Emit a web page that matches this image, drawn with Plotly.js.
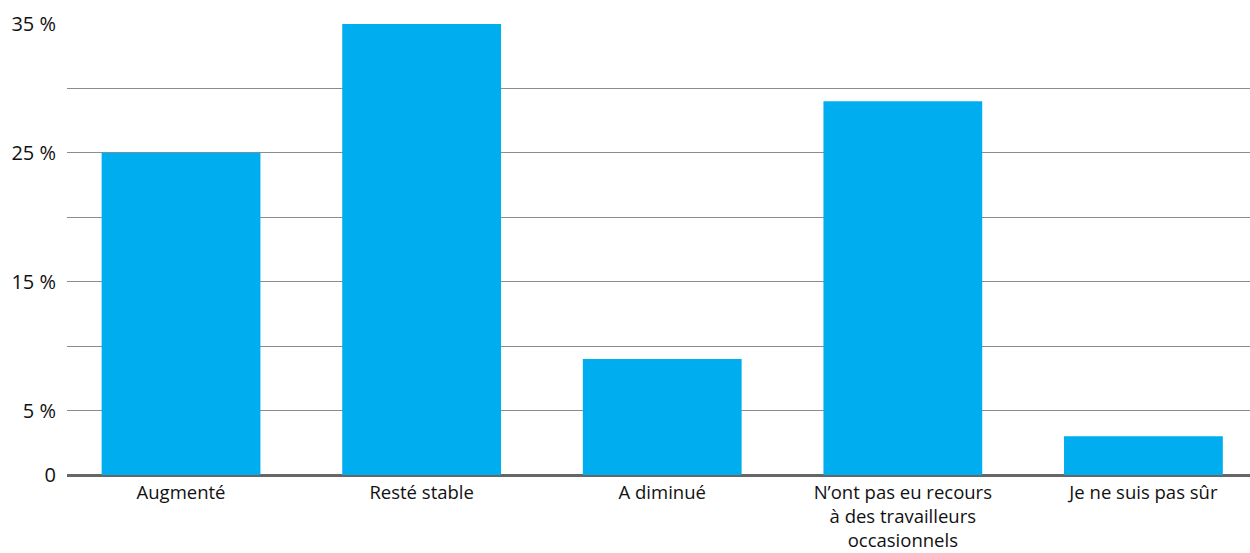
<!DOCTYPE html>
<html>
<head>
<meta charset="utf-8">
<script src="https://cdn.plot.ly/plotly-3.0.1.min.js"></script>
<style>html,body{margin:0;padding:0;background:#fff;}#chart{width:1250px;height:553px;}</style>
</head>
<body>
<div id="chart"></div>
<script>
const categories = ["Augmenté", "Resté stable", "A diminué", "N’ont pas eu recours<br>à des travailleurs<br>occasionnels", "Je ne suis pas sûr"];
const values = [25, 35, 9, 29, 3];
const yTickVals = [0, 5, 10, 15, 20, 25, 30, 35];
const yTickText = ["0", "5 %", "", "15 %", "", "25 %", "", "35 %"];

const trace = {
  type: "bar",
  x: categories,
  y: values,
  marker: {color: "#00AEEF"},
  hoverinfo: "x+y"
};

const layout = {
  width: 1250,
  height: 553,
  margin: {l: 67, r: 0, t: 24, b: 78},
  paper_bgcolor: "#fff",
  plot_bgcolor: "#fff",
  bargap: 0.34,
  showlegend: false,
  font: {family: "Open Sans, sans-serif", size: 19, color: "#111"},
  xaxis: {
    type: "category",
    range: [-0.474, 4.443],
    showgrid: false,
    showline: false,
    ticks: "",
    ticklabelstandoff: 4,
    tickfont: {size: 18.5, color: "#111"},
    fixedrange: true
  },
  yaxis: {
    range: [0, 35],
    tickvals: yTickVals,
    ticktext: yTickText,
    showgrid: true,
    gridcolor: "#8c8c8c",
    gridwidth: 1,
    zeroline: true,
    zerolinecolor: "#666",
    zerolinewidth: 3,
    showline: false,
    ticks: "",
    ticklabelstandoff: 10,
    tickfont: {size: 20, color: "#111"},
    fixedrange: true
  }
};

Plotly.newPlot("chart", [trace], layout, {displayModeBar: false, staticPlot: true});
</script>
</body>
</html>
